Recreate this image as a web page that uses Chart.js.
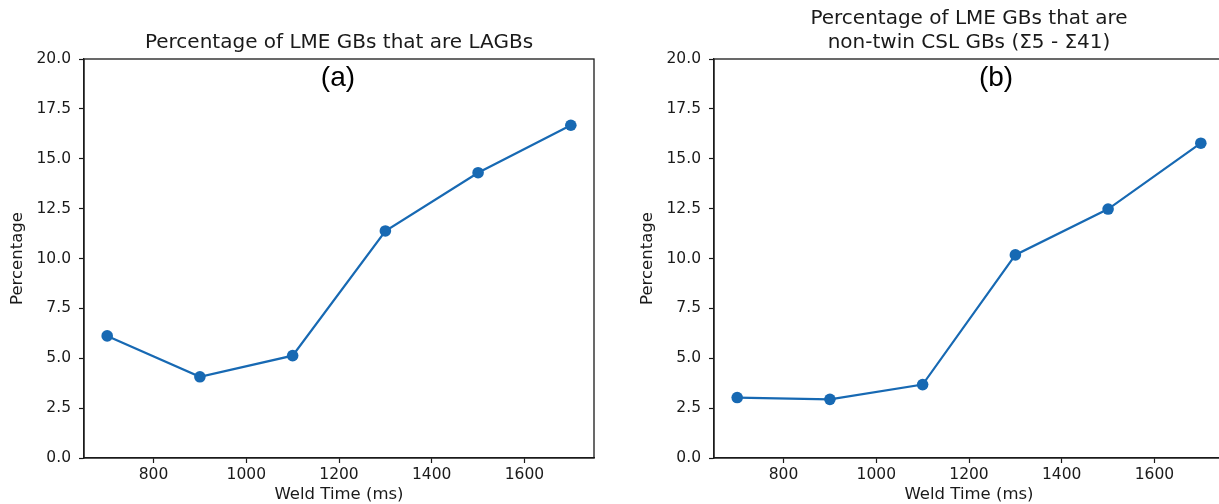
<!DOCTYPE html>
<html>
<head>
<meta charset="utf-8">
<script src="https://cdn.jsdelivr.net/npm/chart.js@4.4.1/dist/chart.umd.min.js"></script>
<style>
  html, body { margin: 0; padding: 0; background: #ffffff; overflow: hidden; width: 1219px; height: 504px; }
  .panel { position: absolute; top: 0; }
  #panelA { left: 0; }
  #panelB { left: 630px; }
</style>
</head>
<body>
<div class="panel" id="panelA"><canvas id="chartA" width="610" height="504"></canvas></div>
<div class="panel" id="panelB"><canvas id="chartB" width="610" height="504"></canvas></div>
<script>
// Weld times (ms) and LME grain-boundary fractions (%)
const weldTimes = [700, 900, 1100, 1300, 1500, 1700];
const lagbPercent = [6.12, 4.07, 5.13, 11.38, 14.30, 16.68];
const cslPercent = [3.03, 2.94, 3.68, 10.18, 12.48, 15.78];

const xTicks = [800, 1000, 1200, 1400, 1600];
const yTicks = [0.0, 2.5, 5.0, 7.5, 10.0, 12.5, 15.0, 17.5, 20.0];

const titleA = 'Percentage of LME GBs that are LAGBs';
const titleB = ['Percentage of LME GBs that are', 'non-twin CSL GBs (\u03A35 - \u03A341)'];
const tagA = '(a)';
const tagB = '(b)';

const INK = '#1a1a1a';
const LINE = '#1769b3';
const TICK_FONT = { family: 'DejaVu Sans', size: 15.5 };
const LABEL_FONT = { family: 'DejaVu Sans', size: 16.5 };

// Full box around the plotting area plus the panel tag text
const framePlugin = {
  id: 'frame',
  afterDraw(chart, args, opts) {
    const { ctx, chartArea: a } = chart;
    ctx.save();
    ctx.strokeStyle = INK;
    ctx.lineWidth = 1.3;
    ctx.strokeRect(a.left, a.top, a.right - a.left, a.bottom - a.top);
    ctx.fillStyle = '#000';
    ctx.font = opts.tagFont;
    ctx.textAlign = 'center';
    ctx.textBaseline = 'middle';
    ctx.fillText(opts.tag, a.left + opts.tagX * (a.right - a.left), a.top + opts.tagY * (a.bottom - a.top));
    ctx.restore();
  }
};

function makeChart(id, values, title, tag, tagX) {
  const lines = Array.isArray(title) ? title.length : 1;
  const lh = 24;
  const topPad = 43 - lh * (lines - 1) - lh / 2;
  return new Chart(document.getElementById(id), {
    type: 'line',
    data: {
      datasets: [{
        data: weldTimes.map((t, i) => ({ x: t, y: values[i] })),
        borderColor: LINE,
        backgroundColor: LINE,
        borderWidth: 2.2,
        pointRadius: 5.8,
        pointHoverRadius: 5.8,
        pointBorderWidth: 0,
        tension: 0,
        fill: false
      }]
    },
    options: {
      responsive: false,
      animation: false,
      events: [],
      layout: { padding: { left: 0, right: 16, top: 0, bottom: 0 } },
      plugins: {
        legend: { display: false },
        tooltip: { enabled: false },
        title: {
          display: true,
          text: title,
          fullSize: false,
          color: INK,
          font: { family: 'DejaVu Sans', size: 20, weight: 'normal', lineHeight: lh / 20 },
          padding: { top: topPad, bottom: 59 - topPad - lh * lines }
        },
        frame: { tag: tag, tagX: tagX, tagY: 0.0475, tagFont: '28px "Liberation Sans"' }
      },
      scales: {
        x: {
          type: 'linear',
          min: 650,
          max: 1750,
          afterBuildTicks(scale) { scale.ticks = xTicks.map(v => ({ value: v })); },
          afterFit(scale) { scale.height = 46; },
          ticks: { color: INK, font: TICK_FONT, padding: 3, maxRotation: 0, callback: v => String(v) },
          grid: { drawOnChartArea: false, drawTicks: true, tickLength: 5, color: INK, tickWidth: 1.2 },
          border: { display: true, color: INK, width: 1.3 },
          title: { display: true, text: 'Weld Time (ms)', color: INK, font: LABEL_FONT, padding: { top: 0, bottom: -1 } }
        },
        y: {
          min: 0,
          max: 20,
          afterBuildTicks(scale) { scale.ticks = yTicks.map(v => ({ value: v })); },
          afterFit(scale) { scale.width = 84; },
          ticks: { color: INK, font: TICK_FONT, padding: 8, callback: v => Number(v).toFixed(1) },
          grid: { drawOnChartArea: false, drawTicks: true, tickLength: 5, color: INK, tickWidth: 1.2 },
          border: { display: true, color: INK, width: 1.3 },
          title: { display: true, text: 'Percentage', color: INK, font: LABEL_FONT, padding: { top: 8, bottom: 8 } }
        }
      }
    },
    plugins: [framePlugin]
  });
}

makeChart('chartA', lagbPercent, titleA, tagA, 0.498);
makeChart('chartB', cslPercent, titleB, tagB, 0.553);
</script>
</body>
</html>
